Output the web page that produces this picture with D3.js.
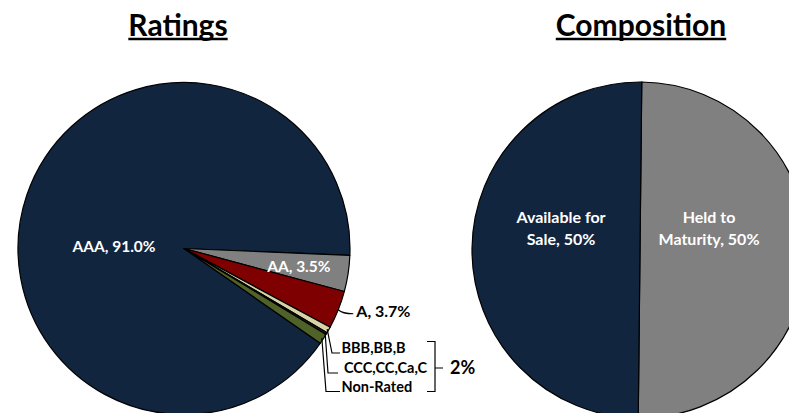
<!DOCTYPE html>
<html>
<head>
<meta charset="utf-8">
<script src="https://cdn.jsdelivr.net/npm/d3@7"></script>
<style>
  body { margin: 0; background: #fff; }
  svg { display: block; }
  text { font-family: Lato, "Open Sans", sans-serif; font-weight: bold; }
</style>
</head>
<body>
<svg></svg>
<script>
// ratings pie data
var ratingNames = ['AAA', 'AA', 'A', 'BBB,BB,B', 'CCC,CC,Ca,C', 'Non-Rated'];
var ratingValues = [91.0, 3.5, 3.7, 0.6, 0.2, 1.0];
var ratingColors = ['#12253f', '#808080', '#7f0000', '#d8d2a6', '#262626', '#4f6228'];

// composition pie data
var compNames = ['Held to Maturity', 'Available for Sale'];
var compValues = [50, 50];
var compColors = ['#808080', '#12253f'];

var canvasWidth = 789, canvasHeight = 413;
var svg = d3.select('svg')
  .attr('width', canvasWidth)
  .attr('height', canvasHeight);

var rad = Math.PI / 180;

// titles with underline
function title(x, txt) {
  var t = svg.append('text')
    .attr('x', x).attr('y', 35.5)
    .attr('text-anchor', 'middle')
    .style('font-size', '30px')
    .text(txt);
  var w = t.node().getComputedTextLength();
  svg.append('line')
    .attr('x1', x - w / 2).attr('x2', x + w / 2)
    .attr('y1', 39).attr('y2', 39)
    .attr('stroke', '#000').attr('stroke-width', 2.5);
}
title(178, 'Ratings');
title(641, 'Composition');

// ---- Ratings pie ----
var r1 = 166;
var g1 = svg.append('g').attr('transform', 'translate(184,248.5)');
// AAA first, starting so it ends just past 3 o'clock
var start1 = 124.8 * rad;
var pie1 = d3.pie().sort(null).startAngle(start1).endAngle(start1 + 2 * Math.PI)
  .value(function(d) { return d; });
var arcs1 = pie1(ratingValues);
var arc1 = d3.arc().innerRadius(0).outerRadius(r1);

g1.selectAll('path')
  .data(arcs1)
  .enter()
  .append('path')
  .attr('d', arc1)
  .attr('fill', function(d, i) { return ratingColors[i]; })
  .attr('stroke', '#000')
  .attr('stroke-width', 1.2)
  .attr('stroke-linejoin', 'round');

function pt(a, r) { return [Math.sin(a) * r, -Math.cos(a) * r]; }
function mid(d) { return (d.startAngle + d.endAngle) / 2; }

// inside labels
g1.append('text')
  .attr('x', -70).attr('y', -2)
  .attr('text-anchor', 'middle').attr('dy', '0.35em')
  .attr('fill', '#fff').style('font-size', '15.5px')
  .text(ratingNames[0] + ', ' + ratingValues[0].toFixed(1) + '%');
var pAA = pt(mid(arcs1[1]), r1 * 0.7);
g1.append('text')
  .attr('x', pAA[0]).attr('y', pAA[1])
  .attr('text-anchor', 'middle').attr('dy', '0.35em')
  .attr('fill', '#fff').style('font-size', '15.5px')
  .text(ratingNames[1] + ', ' + ratingValues[1].toFixed(1) + '%');

// A label with leader
var pA = pt(mid(arcs1[2]), r1);
g1.append('path')
  .attr('d', 'M' + pA[0] + ',' + pA[1] + ' Q' + (pA[0] + 4) + ',' + (pA[1] + 4) + ' ' + (pA[0] + 15) + ',' + (pA[1] + 4))
  .attr('fill', 'none').attr('stroke', '#000').attr('stroke-width', 1.2);
g1.append('text')
  .attr('x', pA[0] + 18).attr('y', pA[1] + 2)
  .attr('dy', '0.35em').style('font-size', '16px')
  .text(ratingNames[2] + ', ' + ratingValues[2].toFixed(1) + '%');

// small slices: leaders down to stacked labels (baselines)
var lineY = [104.5, 124.5, 143];
var lineX = [148, 144, 142];
var lineEnd = [156, 154, 156];
var textX = [157.5, 160, 157.5];
[3, 4, 5].forEach(function(k, j) {
  var p = pt(mid(arcs1[k]), r1 * 0.99);
  g1.append('path')
    .attr('d', 'M' + p[0] + ',' + p[1] + ' L' + lineX[j] + ',' + lineY[j] + ' L' + lineEnd[j] + ',' + lineY[j])
    .attr('fill', 'none').attr('stroke', '#000').attr('stroke-width', 1.2);
  g1.append('text')
    .attr('x', textX[j]).attr('y', lineY[j])
    .style('font-size', '14.5px')
    .text(ratingNames[k]);
});

// bracket around small labels
g1.append('path')
  .attr('d', 'M243,93 L251,93 L251,143 L243,143 M251,119.5 L259,119.5')
  .attr('fill', 'none').attr('stroke', '#000').attr('stroke-width', 1.2);
var smallSum = ratingValues[3] + ratingValues[4] + ratingValues[5];
g1.append('text')
  .attr('x', 266).attr('y', 119.5)
  .attr('dy', '0.35em').style('font-size', '18px')
  .text(Math.round(smallSum) + '%');

// ---- Composition pie ----
var r2 = 168;
var g2 = svg.append('g').attr('transform', 'translate(640,250)');
var start2 = 0.6 * rad;
var pie2 = d3.pie().sort(null).startAngle(start2).endAngle(start2 + 2 * Math.PI)
  .value(function(d) { return d; });
var arcs2 = pie2(compValues);
var arc2 = d3.arc().innerRadius(0).outerRadius(r2);

g2.selectAll('path')
  .data(arcs2)
  .enter()
  .append('path')
  .attr('d', arc2)
  .attr('fill', function(d, i) { return compColors[i]; })
  .attr('stroke', '#000')
  .attr('stroke-width', 1.2);

var compLines = [['Held to', 'Maturity, ' + compValues[0] + '%'], ['Available for', 'Sale, ' + compValues[1] + '%']];
var compX = [69, -79];
compLines.forEach(function(lines, i) {
  var t = g2.append('text')
    .attr('text-anchor', 'middle')
    .attr('fill', '#fff').style('font-size', '16px');
  lines.forEach(function(s, j) {
    t.append('tspan').attr('x', compX[i]).attr('y', -27 + j * 22).text(s);
  });
});
</script>
</body>
</html>
